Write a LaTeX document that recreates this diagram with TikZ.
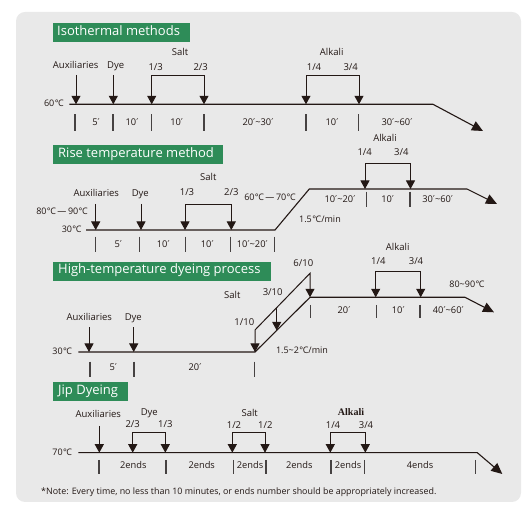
\documentclass[tikz,border=0pt]{standalone}
\usepackage{fontspec}
\setmainfont{Open Sans}
\newfontfamily\dvfont{DejaVu Sans}
\newfontfamily\serifbold{Liberation Serif}
\usetikzlibrary{arrows.meta}
\definecolor{ink}{RGB}{35,24,21}
\definecolor{tickc}{RGB}{70,66,66}
\definecolor{bgc}{RGB}{233,233,233}
\definecolor{tgreen}{RGB}{46,140,88}
\newcommand{\pr}{{\dvfont ′}}
\newcommand{\dC}{\kern0.4pt°\kern-0.5pt C}
\tikzset{
  lbl/.style={font=\fontsize{9.5}{10}\selectfont, text=ink, inner sep=0, anchor=mid},
  sm/.style={font=\fontsize{9.3}{10}\selectfont, text=ink, inner sep=0, anchor=mid},
  tmp/.style={font=\fontsize{9}{10}\selectfont, text=ink, inner sep=0, anchor=mid},
  ttl/.style={text=white, font=\fontsize{13}{14}\selectfont, inner sep=0, anchor=mid west},
  mainline/.style={draw=ink, line width=1.1pt, -{Triangle[width=10pt,length=11pt]}},
  addarr/.style={draw=ink, line width=1pt, -{Triangle[width=9pt,length=8.5pt]}},
  addbr/.style={draw=ink, line width=1pt, {Triangle[width=9pt,length=8.5pt]}-{Triangle[width=9pt,length=8.5pt]}},
  tk/.style={draw=tickc, line width=1.3pt},
}
\begin{document}
\begin{tikzpicture}[x=1pt,y=-1pt]
\useasboundingbox (0,0) rectangle (523,510);
\fill[bgc, rounded corners=9pt] (16,12) rectangle (521,502);

% ---------- Section 1 ----------
\fill[tgreen] (52.7,23) rectangle (190,42);
\node[ttl] (t1) at (57,32.5) {Isothermal methods};
\draw[mainline] (69.3,104.3) -- (433,104.3) -- (483,131);
\node[tmp, anchor=mid east] (c1) at (64,104.3) {60\dC};
\draw[addarr] (76,75) -- (76,104.3);
\draw[addarr] (113.3,75) -- (113.3,104.3);
\draw[addbr] (151.7,104.3) -- (151.7,76) -- (204,76) -- (204,104.3);
\draw[addbr] (306,104.3) -- (306,76) -- (359,76) -- (359,104.3);
\node[lbl] at (75.7,65.7) {Auxiliaries};
\node[lbl] at (115.7,65.7) {Dye};
\node[lbl] at (155.7,68.3) {1/3};
\node[lbl] at (200.7,68.3) {2/3};
\node[lbl] at (180,52.7) {Salt};
\node[lbl] at (331.7,52.7) {Alkali};
\node[lbl] at (314,68.3) {1/4};
\node[lbl] at (350.7,68.3) {3/4};
\foreach \x in {75,113,151.7,204,306,358.5} \draw[tk] (\x,114.3) -- (\x,131);
\node[sm] at (96,122.5) {5\pr};
\node[sm] at (132,122.5) {10\pr};
\node[sm] at (176.7,122.5) {10\pr};
\node[sm] at (258,122.5) {20\pr\textasciitilde30\pr};
\node[sm] at (332,122.5) {10\pr};
\node[sm] at (397,122.5) {30\pr\textasciitilde60\pr};

% ---------- Section 2 ----------
\fill[tgreen] (53,145) rectangle (222.7,164);
\node[ttl] (t2) at (58,154.5) {Rise temperature method};
\draw[mainline] (86,230) -- (275,230) -- (309.3,189) -- (467,189) -- (497,204);
\draw[addarr] (95.7,204) -- (95.7,230);
\draw[addarr] (141,204) -- (141,230);
\draw[addbr] (185,230) -- (185,204.7) -- (231.3,204.7) -- (231.3,230);
\draw[addbr] (365,189) -- (365,163.3) -- (410.5,163.3) -- (410.5,189);
\node[lbl] at (96.3,194) {Auxiliaries};
\node[lbl] at (140.3,194) {Dye};
\node[lbl] at (187,193.3) {1/3};
\node[lbl] at (231.3,193.3) {2/3};
\node[lbl] at (208.3,178.3) {Salt};
\node[lbl] at (364.7,153.3) {1/4};
\node[lbl] at (401.3,153.3) {3/4};
\node[lbl] at (385,139) {Alkali};
\node[tmp] at (62,212.3) {80\dC\,---\,90\dC};
\node[tmp, anchor=mid east] at (81.7,230) {30\dC};
\node[tmp] at (270,198.3) {60\dC\,---\,70\dC};
\node[tmp] at (320,220) {1.5\dC/min};
\foreach \x in {95.7,139.3,185.7,230.3,274.3} \draw[tk] (\x,236.7) -- (\x,251.7);
\node[sm] at (118.3,245) {5\pr};
\node[sm] at (163.3,245) {10\pr};
\node[sm] at (207.3,245) {10\pr};
\node[sm] at (252.3,245) {10\pr\textasciitilde20\pr};
\foreach \x in {366.3,410} \draw[tk] (\x,191.7) -- (\x,206.7);
\node[sm] at (340,200) {10\pr\textasciitilde20\pr};
\node[sm] at (387.7,200) {10\pr};
\node[sm] at (437.7,200) {30\pr\textasciitilde60\pr};

% ---------- Section 3 ----------
\fill[tgreen] (53,261.7) rectangle (271,281);
\node[ttl] (t3) at (58,271.3) {High-temperature dyeing process};
\draw[mainline] (78.3,352) -- (255,352) -- (310,297.3) -- (465,297.3) -- (494,312.3);
\draw[addbr] (255,352) -- (255,330) -- (310,273.3) -- (310,297.3);
\draw[addarr] (276.7,307.6) -- (276.7,330.4);
\draw[addarr] (89,327.3) -- (89,352);
\draw[addarr] (133.7,327.3) -- (133.7,352);
\draw[addbr] (375.7,297.3) -- (375.7,271.7) -- (420.7,271.7) -- (420.7,297.3);
\node[lbl] at (89.3,318.3) {Auxiliaries};
\node[lbl] at (133.3,318.3) {Dye};
\node[lbl] at (244.3,323.3) {1/10};
\node[lbl] at (272.7,293.3) {3/10};
\node[lbl] at (303.3,264.3) {6/10};
\node[lbl] at (232.3,296) {Salt};
\node[lbl] at (378.3,261.7) {1/4};
\node[lbl] at (416,261.7) {3/4};
\node[lbl] at (397.7,248.3) {Alkali};
\node[tmp] at (302,350.7) {1.5\textasciitilde2\dC/min};
\node[tmp] at (467,285) {80\textasciitilde90\dC};
\node[tmp, anchor=mid east] at (72.3,352.3) {30\dC};
\foreach \x in {90,134,254.3} \draw[tk] (\x,361.7) -- (\x,376.7);
\node[sm] at (113.3,368.3) {5\pr};
\node[sm] at (195,368.3) {20\pr};
\foreach \x in {310.7,376.7,420} \draw[tk] (\x,305) -- (\x,318.3);
\node[sm] at (344,311) {20\pr};
\node[sm] at (398.3,311) {10\pr};
\node[sm] at (448.3,311) {40\pr\textasciitilde60\pr};

% ---------- Section 4 ----------
\fill[tgreen] (53,382.3) rectangle (128,400.7);
\node[ttl] (t4) at (58,391.5) {Jip Dyeing};
\draw[mainline] (78.3,452.7) -- (477.3,452.7) -- (502.3,474);
\draw[addarr] (99.3,426) -- (99.3,452.7);
\draw[addbr] (132.7,452.7) -- (132.7,432.7) -- (165.3,432.7) -- (165.3,452.7);
\draw[addbr] (232.3,452.7) -- (232.3,432.7) -- (265,432.7) -- (265,452.7);
\draw[addbr] (330.3,452.7) -- (330.3,432.7) -- (365.3,432.7) -- (365.3,452.7);
\node[lbl] at (98.3,415) {Auxiliaries};
\node[lbl] at (149.3,413.3) {Dye};
\node[lbl] at (132.7,425) {2/3};
\node[lbl] at (165.3,425) {1/3};
\node[lbl] at (249.7,414) {Salt};
\node[lbl] at (234,425.7) {1/2};
\node[lbl] at (265.3,425.7) {1/2};
\node[lbl, font=\serifbold\bfseries\fontsize{10}{11}\selectfont] at (351,413.3) {Alkali};
\node[lbl] at (333,425.7) {1/4};
\node[lbl] at (366,425.7) {3/4};
\node[tmp, anchor=mid east] at (72.3,452.7) {70\dC};
\foreach \x in {99,166,233.3,266,331,364.3,475.3} \draw[tk] (\x,460) -- (\x,474.3);
\node[sm] at (133.3,466) {2ends};
\node[sm] at (201.7,466) {2ends};
\node[sm] at (250,466) {2ends};
\node[sm] at (299.3,466) {2ends};
\node[sm] at (348,466) {2ends};
\node[sm] at (420,466) {4ends};
\node[font=\fontsize{8.9}{10}\selectfont, text=ink, inner sep=0, anchor=mid west] (note) at (41,491.7) {*Note: Every time, no less than 10 minutes, or ends number should be appropriately increased.};
\end{tikzpicture}
\end{document}
